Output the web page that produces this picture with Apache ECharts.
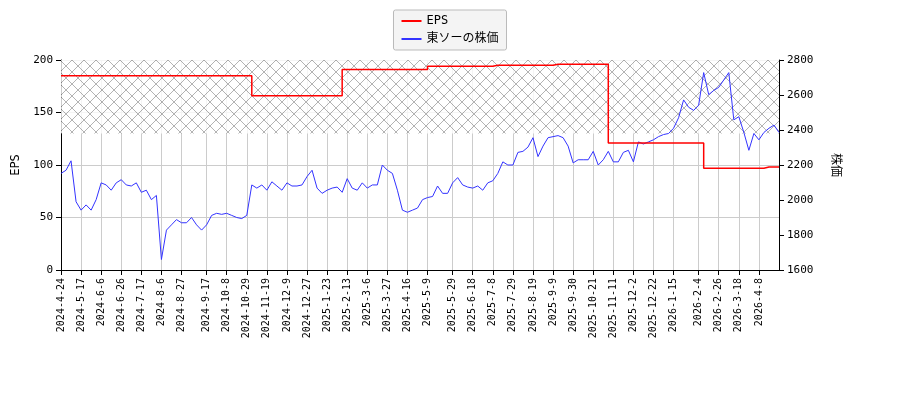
<html>
<head>
<meta charset="utf-8">
<script src="https://cdn.jsdelivr.net/npm/echarts@6/dist/echarts.min.js"></script>
</head>
<body style="margin:0">
<div id="main" style="width:900px;height:400px;"></div>
<script type="text/javascript">
// 目盛りの日付
var tickDates = ['2024-4-24','2024-5-17','2024-6-6','2024-6-26','2024-7-17','2024-8-6','2024-8-27','2024-9-17','2024-10-8','2024-10-29','2024-11-19','2024-12-9','2024-12-27','2025-1-23','2025-2-13','2025-3-6','2025-3-27','2025-4-16','2025-5-9','2025-5-29','2025-6-18','2025-7-8','2025-7-29','2025-8-19','2025-9-9','2025-9-30','2025-10-21','2025-11-11','2025-12-2','2025-12-22','2026-1-15','2026-2-4','2026-2-26','2026-3-18','2026-4-8'];
// 株価
var price = [2152,2170,2224,1990,1942,1972,1942,2002,2098,2086,2056,2098,2116,2086,2080,2098,2044,2056,2002,2026,1660,1828,1858,1888,1870,1870,1900,1858,1828,1858,1912,1924,1918,1924,1912,1900,1894,1912,2086,2068,2086,2056,2104,2080,2056,2098,2080,2080,
  2086,2134,2170,2068,2038,2056,2068,2074,2044,2122,2068,2056,2098,2068,2086,2086,2200,2170,2152,2056,1942,1930,1942,1954,2002,2014,2020,2080,2038,2038,2098,2128,2086,2074,2068,2080,2056,2098,2110,2152,2218,2200,2200,2272,2278,2302,2356,2248,2308,
  2356,2362,2368,2356,2308,2212,2230,2230,2230,2278,2200,2230,2278,2218,2218,2272,2284,2218,2332,2320,2332,2344,2362,2374,2380,2410,2470,2572,2530,2512,2542,2728,2602,2626,2644,2686,2728,2458,2476,2386,2284,2380,2344,2386,2410,2428,2386];
// EPS
var eps = [];
var epsSteps = [[0,185],[38,166],[56,191],[73,194],[86,195],[98,196],[109,121],[128,97],[140,98]];
for (var i = 0; i < price.length; i++) {
  var v = 0;
  for (var j = 0; j < epsSteps.length; j++) if (i >= epsSteps[j][0]) v = epsSteps[j][1];
  eps.push(v);
}
var step = (price.length - 1) * 20.5 / 718;
var cats = [], tickIdx = {};
for (var i = 0; i < price.length; i++) cats.push('');
for (var k = 0; k < tickDates.length; k++) {
  var ix = Math.round(k * step);
  if (ix < price.length) { cats[ix] = tickDates[k]; tickIdx[ix] = true; }
}
function isTick(index) { return !!tickIdx[index]; }

// 網掛け
var cv = document.createElement('canvas');
cv.width = 12; cv.height = 12;
var cx = cv.getContext('2d');
cx.fillStyle = '#fff'; cx.fillRect(0, 0, 12, 12);
cx.strokeStyle = '#888'; cx.lineWidth = 0.8;
cx.beginPath(); cx.moveTo(0, 0); cx.lineTo(12, 12); cx.moveTo(12, 0); cx.lineTo(0, 12); cx.stroke();

var myChart = echarts.init(document.getElementById('main'));
var mono = 'DejaVu Sans Mono, Noto Sans CJK JP';
option = {
  animation: false,
  textStyle: { fontFamily: mono },
  legend: {
    top: 10, left: 'center', orient: 'vertical',
    backgroundColor: '#f4f4f4', borderColor: '#bbb', borderWidth: 1, borderRadius: 2,
    padding: [5, 8], itemGap: 6, itemWidth: 20, itemHeight: 2,
    textStyle: { fontSize: 12, color: '#000', fontFamily: mono },
    data: [{ name: 'EPS', icon: 'rect' }, { name: '東ソーの株価', icon: 'rect' }]
  },
  grid: { left: 61, right: 121, top: 60, bottom: 130 },
  xAxis: {
    type: 'category', data: cats, boundaryGap: false,
    axisLine: { lineStyle: { color: '#000' } },
    axisTick: { interval: isTick, lineStyle: { color: '#000' } },
    axisLabel: { interval: isTick, rotate: 90, color: '#000', fontSize: 10, fontFamily: mono },
    splitLine: { show: true, interval: isTick, lineStyle: { color: '#ccc' } }
  },
  yAxis: [
    { type: 'value', min: 0, max: 200, interval: 50, name: 'EPS', nameLocation: 'middle', nameGap: 38,
      nameTextStyle: { color: '#000', fontSize: 12, fontFamily: mono },
      axisLine: { show: true, lineStyle: { color: '#000' } }, axisTick: { show: true },
      axisLabel: { color: '#000', fontSize: 11, fontFamily: mono }, splitLine: { lineStyle: { color: '#ccc' } } },
    { type: 'value', min: 1600, max: 2800, interval: 200, name: '株価', nameLocation: 'middle', nameGap: 50, nameRotate: -90,
      nameTextStyle: { color: '#000', fontSize: 12, fontFamily: mono },
      axisLine: { show: true, lineStyle: { color: '#000' } }, axisTick: { show: true },
      axisLabel: { color: '#000', fontSize: 11, fontFamily: mono, formatter: function (v) { return String(v); } },
      splitLine: { show: false } }
  ],
  series: [
    { name: 'EPS', type: 'line', step: 'end', data: eps, symbol: 'none', color: '#f00', lineStyle: { width: 1.5 }, z: 5,
      markArea: { silent: true, itemStyle: { color: { image: cv, repeat: 'repeat' }, opacity: 0.8 },
        data: [[{ yAxis: 130 }, { yAxis: 200 }]] } },
    { name: '東ソーの株価', type: 'line', yAxisIndex: 1, data: price, symbol: 'none', color: '#33f', lineStyle: { width: 1 }, z: 2 }
  ]
};
myChart.setOption(option);
</script>
</body>
</html>
